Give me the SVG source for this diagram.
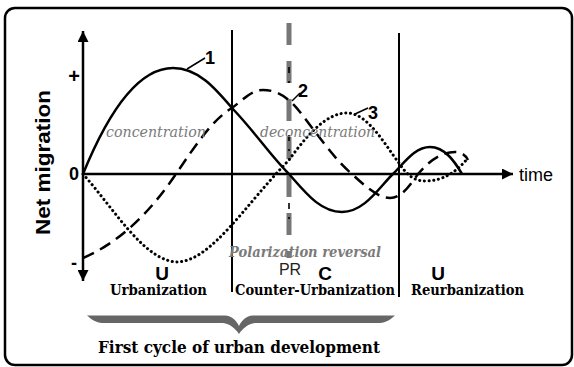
<svg xmlns="http://www.w3.org/2000/svg" width="574" height="367" viewBox="0 0 574 367">
<style>
.ax{stroke:#000;stroke-width:2.5;fill:none}
.vl{stroke:#000;stroke-width:2;fill:none}
.c1{stroke:#000;stroke-width:2.5;fill:none}
.c2{stroke:#000;stroke-width:2.5;fill:none;stroke-dasharray:12,7}
.c3{stroke:#000;stroke-width:3;fill:none;stroke-dasharray:0.1,4.6;stroke-linecap:round}
.ld{stroke:#000;stroke-width:1.5;fill:none}
.sans{font-family:"Liberation Sans",Arial,sans-serif}
.b{font-weight:bold}
.ser{font-family:"DejaVu Serif","Liberation Serif",serif;font-weight:bold}
.it{font-family:"DejaVu Serif","Liberation Serif",serif;font-style:italic;fill:#7a7a7a}
</style>
<defs>
<marker id="ah" viewBox="0 0 10 10" refX="10" refY="5" markerWidth="5" markerHeight="4.4" markerUnits="strokeWidth" orient="auto">
<path d="M0,0L10,5L0,10z" fill="#000"/>
</marker>
</defs>
<rect x="5" y="8" width="567" height="357" rx="10" fill="#fff" stroke="#000" stroke-width="2.5"/>
<g id="axes">
<line class="ax" x1="83" y1="174" x2="83" y2="31" marker-end="url(#ah)"/>
<line class="ax" x1="83" y1="174" x2="83" y2="281" marker-end="url(#ah)"/>
<line class="ax" x1="83" y1="174" x2="513" y2="174" marker-end="url(#ah)"/>
<text class="sans b" x="74" y="83" font-size="20" text-anchor="middle">+</text>
<text class="sans b" x="74" y="180" font-size="18" text-anchor="middle">0</text>
<text class="sans b" x="74" y="269" font-size="18" text-anchor="middle">-</text>
<text class="sans" x="519" y="181" font-size="18">time</text>
<text class="sans b" font-size="21" text-anchor="middle" textLength="145" lengthAdjust="spacingAndGlyphs" transform="translate(50,162.5) rotate(-90)">Net migration</text>
</g>
<g id="phase-lines">
<line class="vl" x1="232" y1="30" x2="232" y2="292"/>
<line class="vl" x1="399" y1="33" x2="399" y2="297"/>
</g>
<g id="pr-line">
<line x1="289" y1="23" x2="289" y2="258" stroke="#777" stroke-width="5" stroke-dasharray="22,16"/>
<line x1="289" y1="23" x2="289" y2="258" stroke="#000" stroke-width="2" stroke-dasharray="0,44,6,8,2,8" opacity="0.8"/>
<text class="sans" x="290" y="275" font-size="16" text-anchor="middle" fill="#222">PR</text>
</g>
<g id="connectors">
<path id="curve1" class="c1" d="M83,174 C105,120 135,68 173,68 C198,68 215,88 232,108 C255,132 270,155 289,174 C305,192 320,212 342,212 C365,212 380,186 393,174 C405,162 415,147 430,147 C445,147 455,162 462,174"/>
<path id="curve2" class="c2" d="M83,258 C125,240 155,205 176,174 C195,146 212,120 232,108 C245,98 252,90 263,90 C280,90 290,100 300,112 C318,135 335,160 352,174 C365,186 378,198 390,198 C402,198 410,185 418,174 C430,160 442,152 455,152 C462,152 466,156 468,160"/>
<path id="curve3" class="c3" d="M83,174 C115,210 145,262 178,262 C212,260 245,205 289,160 C305,138 325,113 347,113 C368,113 385,145 399,163 C405,172 412,181 425,181 C445,181 458,170 468,158"/>
<line class="ld" x1="187" y1="69" x2="205" y2="58"/>
<line class="ld" x1="292" y1="101" x2="300" y2="93"/>
<line class="ld" x1="355" y1="114" x2="368" y2="108"/>
</g>
<g id="curve-labels">
<text class="sans b" x="205" y="64" font-size="18">1</text>
<text class="sans b" x="298" y="97" font-size="18">2</text>
<text class="sans b" x="368" y="119" font-size="18">3</text>
</g>
<g id="italic-labels">
<text class="it" x="106" y="137" font-size="15" textLength="100" lengthAdjust="spacingAndGlyphs">concentration</text>
<text class="it" x="260" y="137" font-size="15" textLength="115" lengthAdjust="spacingAndGlyphs">deconcentration</text>
<text class="it" x="229" y="257" font-size="15" font-weight="bold" textLength="152" lengthAdjust="spacingAndGlyphs">Polarization reversal</text>
</g>
<g id="phase-labels">
<text class="sans b" x="162" y="280" font-size="19" text-anchor="middle">U</text>
<text class="sans b" x="325" y="280" font-size="19" text-anchor="middle">C</text>
<text class="sans b" x="438" y="280" font-size="19" text-anchor="middle">U</text>
<text class="ser" x="110" y="295" font-size="14" textLength="97" lengthAdjust="spacingAndGlyphs">Urbanization</text>
<text class="ser" x="235" y="295" font-size="14" textLength="160" lengthAdjust="spacingAndGlyphs">Counter-Urbanization</text>
<text class="ser" x="411" y="295" font-size="14" textLength="113" lengthAdjust="spacingAndGlyphs">Reurbanization</text>
</g>
<g id="brace">
<path d="M87,315.5 L225,315.5 C232,316 236,320 239,326 C242,320 246,316 253,315.5 L395,315.5 C390,320 386,322.5 380,323 L255,323 C248,324 243,328 239,334 C235,328 230,324 223,323 L102,323 C96,322.5 92,320 87,315.5 Z" fill="#666"/>
<text class="ser" x="98" y="353" font-size="16" textLength="282" lengthAdjust="spacingAndGlyphs">First cycle of urban development</text>
</g>
</svg>
